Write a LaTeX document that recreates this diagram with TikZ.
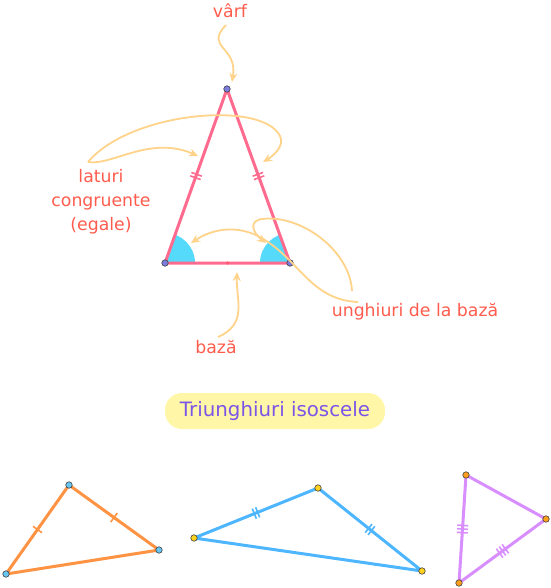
\documentclass[tikz,border=0pt]{standalone}
\usepackage{fontspec}
\setmainfont{DejaVu Sans}
\usetikzlibrary{calc,arrows.meta}
\definecolor{lbl}{HTML}{FF5C4D}
\definecolor{ttl}{HTML}{7A55E8}
\definecolor{ttlbg}{HTML}{FFF6A8}
\definecolor{arr}{HTML}{FFD38A}
\definecolor{trimain}{HTML}{FF6B8F}
\definecolor{angf}{HTML}{55DAFB}
\definecolor{ptmain}{HTML}{7B7BE0}
\definecolor{triorange}{HTML}{FF9344}
\definecolor{ptblue}{HTML}{66C6F0}
\definecolor{triblue}{HTML}{4DB6FF}
\definecolor{ptyellow}{HTML}{FFD21F}
\definecolor{tripurple}{HTML}{D98EFF}
\definecolor{ptorange}{HTML}{FF9F1C}
\newcommand{\tickat}[4]{% A, B, offset along side, colour
  \path ($(#1)!0.5!(#2)$) coordinate (tkm);
  \path ($(tkm)!#3!(#2)$) coordinate (tkp);
  \draw[#4, line width=1.6pt] ($(tkp)!5.5pt!90:(#2)$) -- ($(tkp)!5.5pt!-90:(#2)$);}
\newcommand{\tickatneg}[4]{%
  \path ($(#1)!0.5!(#2)$) coordinate (tkm);
  \path ($(tkm)!#3!(#1)$) coordinate (tkp);
  \draw[#4, line width=1.6pt] ($(tkp)!5.5pt!90:(#2)$) -- ($(tkp)!5.5pt!-90:(#2)$);}
\begin{document}
\begin{tikzpicture}[x=1pt,y=-1pt,
  lab/.style={text=lbl, font=\fontsize{17.3}{24}\selectfont, align=center, inner sep=0pt},
  arrw/.style={draw=arr, line width=1.8pt, -{Stealth[length=9pt,width=8pt,inset=3pt]}},
  pt/.style={circle, draw=black!75, line width=0.6pt, minimum size=6.5pt, inner sep=0pt},
  side/.style={line width=3pt, line join=round}]
\useasboundingbox (0,0) rectangle (550,588);

% main triangle
\coordinate (T) at (227,89);
\coordinate (L) at (165,263);
\coordinate (R) at (290,263);
\begin{scope}
  \clip (L) -- (T) -- (R) -- cycle;
  \fill[angf] (L) circle[radius=30pt];
  \fill[angf] (R) circle[radius=30pt];
\end{scope}
\draw[side, trimain] (T) -- (L) -- (R) -- cycle;
\tickat{L}{T}{1.8pt}{trimain}
\tickatneg{L}{T}{1.8pt}{trimain}
\tickat{R}{T}{1.8pt}{trimain}
\tickatneg{R}{T}{1.8pt}{trimain}
\node[circle, fill=trimain!80!red, minimum size=3.5pt, inner sep=0pt] (mid) at ($(L)!0.5!(R)$) {};
\node[pt, fill=ptmain] (pT) at (T) {};
\node[pt, fill=ptmain] (pL) at (L) {};
\node[pt, fill=ptmain] (pR) at (R) {};

% labels
\node[lab] (varf) at (230,11) {vârf};
\node[lab] (laturi) at (101,202) {laturi\\congruente\\(egale)};
\node[lab] (baza) at (216,347) {bază};
\node[lab] (ungh) at (415,312) {unghiuri de la bază};

% arrows
\coordinate (v0) at (226,25);
\coordinate (v1) at (232,82);
\draw[arrw] (v0) .. controls (204,48) and (238,46) .. (v1);
\coordinate (l0) at (88,162);
\coordinate (l1) at (198,156);
\draw[arrw] (l0) .. controls (112,166) and (150,135) .. (l1);
\coordinate (l2) at (280,136);
\coordinate (l3) at (263,162);
\draw[arrw] (l0) .. controls (130,112) and (262,100) .. (l2) .. controls (285,146) and (273,156) .. (l3);
\coordinate (b0) at (218,337);
\coordinate (b1) at (237,272);
\draw[arrw] (b0) .. controls (248,324) and (236,300) .. (b1);
\coordinate (u0) at (352,291);
\coordinate (u1) at (262,219);
\coordinate (u2) at (266,243);
\draw[arrw] (u0) .. controls (350,250) and (300,214) .. (u1) .. controls (248,221) and (253,233) .. (u2);
\coordinate (w0) at (358,302);
\coordinate (w1) at (265,240);
\coordinate (w2) at (191,243);
\draw[arrw] (w0) .. controls (312,300) and (300,262) .. (w1) .. controls (240,224) and (214,228) .. (w2);

% title
\node[fill=ttlbg, rounded corners=17pt, minimum width=220pt, minimum height=36pt, text=ttl,
      font=\fontsize{19.8}{22}\selectfont] (title) at (275,411) {Triunghiuri isoscele};

% orange triangle
\coordinate (o1) at (6,574);
\coordinate (o2) at (69,485);
\coordinate (o3) at (159,550);
\draw[side, triorange] (o1) -- (o2) -- (o3) -- cycle;
\tickat{o1}{o2}{0pt}{triorange}
\tickat{o2}{o3}{0pt}{triorange}
\node[pt, fill=ptblue] (po1) at (o1) {};
\node[pt, fill=ptblue] (po2) at (o2) {};
\node[pt, fill=ptblue] (po3) at (o3) {};

% blue triangle
\coordinate (q1) at (194,538);
\coordinate (q2) at (318,488);
\coordinate (q3) at (422,571);
\draw[side, triblue] (q1) -- (q2) -- (q3) -- cycle;
\tickat{q1}{q2}{1.8pt}{triblue}
\tickatneg{q1}{q2}{1.8pt}{triblue}
\tickat{q2}{q3}{1.8pt}{triblue}
\tickatneg{q2}{q3}{1.8pt}{triblue}
\node[pt, fill=ptyellow] (pq1) at (q1) {};
\node[pt, fill=ptyellow] (pq2) at (q2) {};
\node[pt, fill=ptyellow] (pq3) at (q3) {};

% purple triangle
\coordinate (r1) at (466,475);
\coordinate (r2) at (546,519);
\coordinate (r3) at (459,583);
\draw[side, tripurple] (r1) -- (r2) -- (r3) -- cycle;
\tickat{r1}{r3}{0pt}{tripurple}
\tickat{r1}{r3}{3.6pt}{tripurple}
\tickatneg{r1}{r3}{3.6pt}{tripurple}
\tickat{r2}{r3}{0pt}{tripurple}
\tickat{r2}{r3}{3.6pt}{tripurple}
\tickatneg{r2}{r3}{3.6pt}{tripurple}
\node[pt, fill=ptorange] (pr1) at (r1) {};
\node[pt, fill=ptorange] (pr2) at (r2) {};
\node[pt, fill=ptorange] (pr3) at (r3) {};
\end{tikzpicture}
\end{document}
